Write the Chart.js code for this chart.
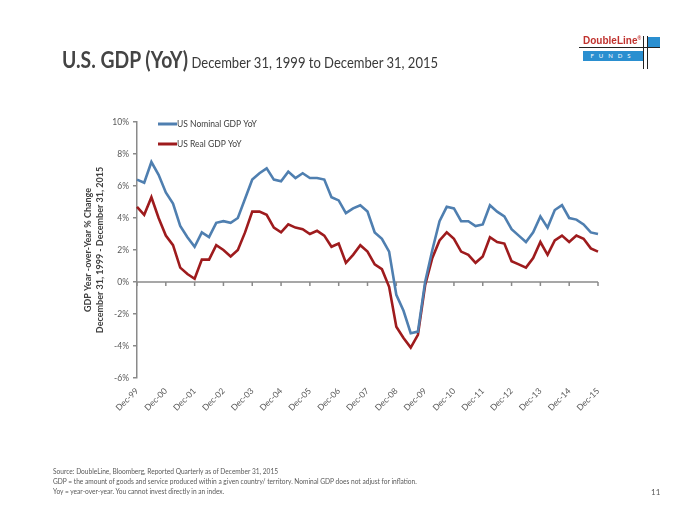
<!DOCTYPE html>
<html>
<head>
<meta charset="utf-8">
<script src="https://cdn.jsdelivr.net/npm/chart.js@4"></script>
<style>
  body { margin: 0; background: #fff; }
  #page { position: relative; width: 700px; height: 525px; overflow: hidden; font-family: Lato, sans-serif; }
  #chart { position: absolute; left: 0; top: 0; }
  .title { position: absolute; left: 62px; top: 45px; color: #3a3a3a; white-space: nowrap; transform: scaleX(0.84); transform-origin: left top; }
  .title b { font-weight: bold; font-size: 23px; color: #444; }
  .title span { font-size: 15.5px; }
  .foot { position: absolute; left: 53px; top: 466px; font-size: 6.6px; line-height: 10px; color: #595959; }
  .pgnum { position: absolute; left: 651px; top: 487px; font-size: 8px; color: #595959; }
  .logo-red { position: absolute; left: 583px; top: 35px; font: bold 10px "Liberation Sans Narrow", "Liberation Sans", sans-serif; color: #c0322e; }
  .logo-blue { position: absolute; left: 583px; top: 51px; width: 60px; height: 10px; background: #2a8fd0; color: #fff; font-size: 6px; line-height: 10px; text-align: center; letter-spacing: 5px; }
  .logo-sq { position: absolute; left: 647px; top: 37px; width: 13px; height: 10px; background: #2a8fd0; }
  .logo-h { position: absolute; left: 579px; top: 47px; width: 81px; height: 1px; background: #222; }
  .logo-v1 { position: absolute; left: 643px; top: 36px; width: 1px; height: 33px; background: #222; }
  .logo-v2 { position: absolute; left: 647px; top: 36px; width: 1px; height: 33px; background: #222; }
</style>
</head>
<body>
<div id="page">
  <canvas id="chart" width="700" height="525"></canvas>
  <div class="title"><b>U.S. GDP (YoY)</b> <span>December 31, 1999 to December 31, 2015</span></div>
  <div class="logo-red">DoubleLine<sup style="font-size:5px">®</sup></div>
  <div class="logo-sq"></div>
  <div class="logo-h"></div>
  <div class="logo-blue">FUNDS</div>
  <div class="logo-v1"></div>
  <div class="logo-v2"></div>
  <div class="foot">Source: DoubleLine, Bloomberg, Reported Quarterly as of December 31, 2015<br>GDP = the amount of goods and service produced within a given country/ territory. Nominal GDP does not adjust for inflation.<br>Yoy = year-over-year.  You cannot invest directly in  an  index.</div>
  <div class="pgnum">11</div>
</div>
<script>
// quarterly periods, Dec-99 .. Dec-15
const quarters = [
    'Dec-99',
    'Mar-00', 'Jun-00', 'Sep-00', 'Dec-00',
    'Mar-01', 'Jun-01', 'Sep-01', 'Dec-01',
    'Mar-02', 'Jun-02', 'Sep-02', 'Dec-02',
    'Mar-03', 'Jun-03', 'Sep-03', 'Dec-03',
    'Mar-04', 'Jun-04', 'Sep-04', 'Dec-04',
    'Mar-05', 'Jun-05', 'Sep-05', 'Dec-05',
    'Mar-06', 'Jun-06', 'Sep-06', 'Dec-06',
    'Mar-07', 'Jun-07', 'Sep-07', 'Dec-07',
    'Mar-08', 'Jun-08', 'Sep-08', 'Dec-08',
    'Mar-09', 'Jun-09', 'Sep-09', 'Dec-09',
    'Mar-10', 'Jun-10', 'Sep-10', 'Dec-10',
    'Mar-11', 'Jun-11', 'Sep-11', 'Dec-11',
    'Mar-12', 'Jun-12', 'Sep-12', 'Dec-12',
    'Mar-13', 'Jun-13', 'Sep-13', 'Dec-13',
    'Mar-14', 'Jun-14', 'Sep-14', 'Dec-14',
    'Mar-15', 'Jun-15', 'Sep-15', 'Dec-15'
];
const tickLabels = ['Dec-99', 'Dec-00', 'Dec-01', 'Dec-02', 'Dec-03', 'Dec-04', 'Dec-05', 'Dec-06', 'Dec-07',
    'Dec-08', 'Dec-09', 'Dec-10', 'Dec-11', 'Dec-12', 'Dec-13', 'Dec-14', 'Dec-15'];

const nominalGdp = [
    6.4,
    6.2, 7.5, 6.7, 5.6,
    4.9, 3.5, 2.8, 2.2,
    3.1, 2.8, 3.7, 3.8,
    3.7, 4.0, 5.2, 6.4,
    6.8, 7.1, 6.4, 6.3,
    6.9, 6.5, 6.8, 6.5,
    6.5, 6.4, 5.3, 5.1,
    4.3, 4.6, 4.8, 4.4,
    3.1, 2.7, 1.9, -0.8,
    -1.8, -3.2, -3.1, 0.0,
    2.0, 3.8, 4.7, 4.6,
    3.8, 3.8, 3.5, 3.6,
    4.8, 4.4, 4.1, 3.3,
    2.9, 2.5, 3.1, 4.1,
    3.4, 4.5, 4.8, 4.0,
    3.9, 3.6, 3.1, 3.0
];
const realGdp = [
    4.7,
    4.2, 5.3, 4.0, 2.9,
    2.3, 0.9, 0.5, 0.2,
    1.4, 1.4, 2.3, 2.0,
    1.6, 2.0, 3.1, 4.4,
    4.4, 4.2, 3.4, 3.1,
    3.6, 3.4, 3.3, 3.0,
    3.2, 2.9, 2.2, 2.4,
    1.2, 1.7, 2.3, 1.9,
    1.1, 0.8, -0.3, -2.8,
    -3.5, -4.1, -3.3, -0.2,
    1.5, 2.6, 3.1, 2.7,
    1.9, 1.7, 1.2, 1.6,
    2.8, 2.5, 2.4, 1.3,
    1.1, 0.9, 1.5, 2.5,
    1.7, 2.6, 2.9, 2.5,
    2.9, 2.7, 2.1, 1.9
];

const BLUE = '#4f7fb0';
const RED = '#9e1b1d';
const AXIS = '#8a8a8a';
const TEXT = '#595959';

// zero line with yearly tick marks, drawn like the excel axis crossing at 0
const zeroLine = {
    id: 'zeroLine',
    beforeDatasetsDraw(chart) {
        const ctx = chart.ctx, area = chart.chartArea;
        const x = chart.scales.x, y = chart.scales.y;
        const y0 = y.getPixelForValue(0);
        ctx.save();
        ctx.strokeStyle = AXIS;
        ctx.lineWidth = 1.5;
        ctx.beginPath();
        ctx.moveTo(area.left, y0);
        ctx.lineTo(area.right, y0);
        quarters.forEach((q, i) => {
            if (tickLabels.includes(q)) {
                const px = x.getPixelForValue(i);
                ctx.moveTo(px, y0);
                ctx.lineTo(px, y0 + 4);
            }
        });
        ctx.stroke();
        ctx.restore();
    }
};

// legend sits inside the plot, top left
const innerLegend = {
    id: 'innerLegend',
    afterDraw(chart) {
        const ctx = chart.ctx;
        const left = chart.chartArea.left + 21;
        ctx.save();
        ctx.font = '8.5px Lato';
        ctx.textBaseline = 'middle';
        chart.data.datasets.forEach((ds, i) => {
            const yy = 124 + i * 20;
            ctx.strokeStyle = ds.borderColor;
            ctx.lineWidth = 3;
            ctx.beginPath();
            ctx.moveTo(left, yy);
            ctx.lineTo(left + 19, yy);
            ctx.stroke();
            ctx.fillStyle = '#404040';
            ctx.fillText(ds.label, left + 19, yy);
        });
        ctx.restore();
    }
};

new Chart(document.getElementById('chart'), {
    type: 'line',
    data: {
        labels: quarters,
        datasets: [
            { label: 'US Nominal GDP YoY', data: nominalGdp, borderColor: BLUE, backgroundColor: BLUE, borderWidth: 2.6, pointRadius: 0, tension: 0 },
            { label: 'US Real GDP YoY', data: realGdp, borderColor: RED, backgroundColor: RED, borderWidth: 2.6, pointRadius: 0, tension: 0 }
        ]
    },
    options: {
        responsive: false,
        animation: false,
        events: [],
        layout: {
            padding: { left: 78, top: 122, right: 102, bottom: 97 }
        },
        scales: {
            x: {
                offset: false,
                afterFit: function (scale) { scale.height = 50; },
                grid: { display: false },
                border: { display: false },
                ticks: {
                    autoSkip: false,
                    minRotation: 45,
                    maxRotation: 45,
                    padding: 0,
                    color: TEXT,
                    font: { family: 'Lato', size: 8.5 },
                    callback: function (value, index) {
                        const q = quarters[index];
                        return tickLabels.includes(q) ? q : null;
                    }
                }
            },
            y: {
                min: -6,
                max: 10,
                afterFit: function (scale) { scale.width = 59; },
                grid: { drawOnChartArea: false, drawTicks: true, tickLength: 4, color: AXIS, lineWidth: 1.5 },
                border: { display: true, color: AXIS, width: 1.5 },
                ticks: {
                    stepSize: 2,
                    padding: 4,
                    color: TEXT,
                    font: { family: 'Lato', size: 8.5 },
                    callback: function (value) { return value + '%'; }
                },
                title: {
                    display: true,
                    text: ['GDP Year -over-Year % Change', 'December 31, 1999 - December 31, 2015'],
                    color: '#404040',
                    font: { family: 'Lato', size: 9, weight: 'bold', lineHeight: 1.35 },
                    padding: { top: 4, bottom: 0 }
                }
            }
        },
        plugins: {
            legend: { display: false },
            tooltip: { enabled: false }
        }
    },
    plugins: [zeroLine, innerLegend]
});
</script>
</body>
</html>
